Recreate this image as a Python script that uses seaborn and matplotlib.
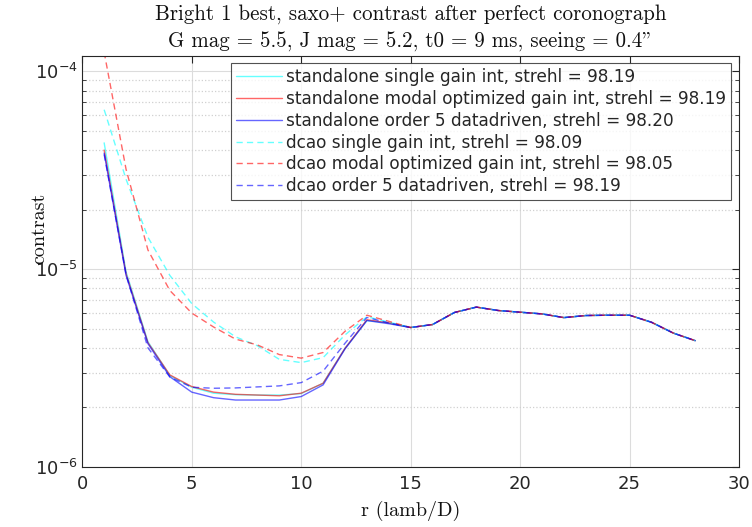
import numpy as np
import pandas as pd
import matplotlib
matplotlib.use("Agg")
import matplotlib.pyplot as plt
import seaborn as sns
from matplotlib.ticker import LogLocator, NullFormatter, MultipleLocator

sns.set_theme(style="whitegrid")
plt.rcParams['font.family'] = ['DejaVu Sans']
plt.rcParams['lines.dashed_pattern'] = [4.5, 3.0]

# ---- data ----
r = list(range(1, 29))
tail = [5.07e-6, 5.25e-6, 6.04e-6, 6.43e-6, 6.18e-6, 6.06e-6, 5.94e-6,
        5.69e-6, 5.83e-6, 5.85e-6, 5.85e-6, 5.39e-6, 4.75e-6, 4.35e-6]

sa_single = [4.35e-5, 9.7e-6, 4.3e-6, 2.9e-6, 2.53e-6, 2.36e-6, 2.32e-6,
             2.31e-6, 2.31e-6, 2.35e-6, 2.65e-6, 3.98e-6, 5.5e-6, 5.35e-6] + tail
sa_modal = [4.0e-5, 9.5e-6, 4.25e-6, 2.92e-6, 2.55e-6, 2.39e-6, 2.33e-6,
            2.31e-6, 2.29e-6, 2.36e-6, 2.65e-6, 3.98e-6, 5.55e-6, 5.35e-6] + tail
sa_order5 = [3.86e-5, 9.3e-6, 4.2e-6, 2.86e-6, 2.39e-6, 2.24e-6, 2.18e-6,
             2.18e-6, 2.18e-6, 2.27e-6, 2.6e-6, 3.95e-6, 5.5e-6, 5.3e-6] + tail
dc_single = [6.4e-5, 2.85e-5, 1.45e-5, 9.3e-6, 6.7e-6, 5.4e-6, 4.55e-6,
             4.1e-6, 3.5e-6, 3.37e-6, 3.57e-6, 4.65e-6, 5.75e-6, 5.4e-6] + tail
dc_modal = [1.25e-4, 3.2e-5, 1.25e-5, 7.8e-6, 6.0e-6, 5.1e-6, 4.43e-6,
            4.14e-6, 3.7e-6, 3.55e-6, 3.79e-6, 4.85e-6, 5.85e-6, 5.45e-6] + tail
dc_order5 = [3.8e-5, 9.4e-6, 4.0e-6, 2.85e-6, 2.53e-6, 2.5e-6, 2.51e-6,
             2.54e-6, 2.57e-6, 2.67e-6, 3.05e-6, 4.22e-6, 5.7e-6, 5.35e-6] + tail

labels = ['standalone single gain int, strehl = 98.19',
          'standalone modal optimized gain int, strehl = 98.19',
          'standalone order 5 datadriven, strehl = 98.20',
          'dcao single gain int, strehl = 98.09',
          'dcao modal optimized gain int, strehl = 98.05',
          'dcao order 5 datadriven, strehl = 98.19']
series = [sa_single, sa_modal, sa_order5, dc_single, dc_modal, dc_order5]
colors = ['#00ffff', '#ff0000', '#0000ff', '#00ffff', '#ff0000', '#0000ff']
styles = ['-', '-', '-', '--', '--', '--']

fig = plt.figure(figsize=(7.52, 5.27), dpi=100)
ax = fig.add_axes([0.1094, 0.1139, 0.8734, 0.7804])

for vals, lab, col, ls in zip(series, labels, colors, styles):
    df = pd.DataFrame({'r': r, 'contrast': vals})
    sns.lineplot(data=df, x='r', y='contrast', ax=ax, color=col, linestyle=ls,
                 linewidth=1.0, alpha=0.6, label=lab)

ax.set_yscale('log')
ax.set_xlim(0, 30)
ax.set_ylim(1e-6, 1.2e-4)
ax.xaxis.set_major_locator(MultipleLocator(5))
ax.yaxis.set_major_locator(LogLocator(base=10))
ax.yaxis.set_minor_locator(LogLocator(base=10, subs=np.arange(2, 10)))
ax.yaxis.set_minor_formatter(NullFormatter())

ax.set_facecolor('white')
ax.grid(True, which='major', color='#dcdcdc', linestyle='-', linewidth=0.8)
ax.grid(True, which='minor', axis='y', color='#d0d0d0', linestyle=':', linewidth=0.9)
for s in ax.spines.values():
    s.set_color('#262626')
    s.set_linewidth(0.8)
ax.tick_params(which='both', direction='in', top=True, right=True,
               color='#262626', labelcolor='#262626', labelsize=13)
ax.tick_params(which='major', length=5, width=0.8)
ax.tick_params(axis='x', which='major', pad=6)
ax.tick_params(which='minor', length=3, width=0.6, left=True, right=True)

serif = ['cmr10', 'DejaVu Serif']
ax.set_title('Bright 1 best, saxo+ contrast after perfect coronograph\n'
             'G mag = 5.5, J mag = 5.2, t0 = 9 ms, seeing = 0.4"',
             family=serif, fontsize=15.1, color='#111111', pad=6, linespacing=1.5)
ax.set_xlabel('r (lamb/D)', family=serif, fontsize=14.5, color='#111111')
ax.set_ylabel('contrast', family=serif, fontsize=14.5, color='#111111')
ax.xaxis.set_label_coords(0.5, -0.083)
ax.yaxis.set_label_coords(-0.066, 0.58)
ax.yaxis.label.set_va('center')

leg = ax.legend(loc='upper right', fontsize=12.2, frameon=True, fancybox=False,
                edgecolor='#262626', handlelength=2.7, borderpad=0.3,
                labelspacing=0.22, handletextpad=0.25, borderaxespad=0.45)
leg.get_frame().set_linewidth(0.8)

fig.savefig('out.png', dpi=100)
